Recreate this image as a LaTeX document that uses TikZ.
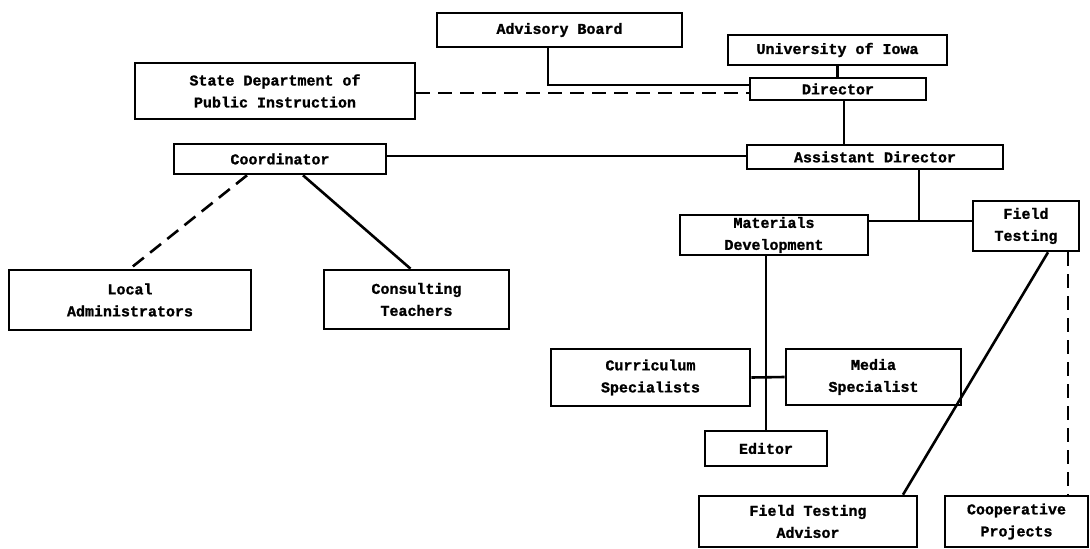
\documentclass[tikz,border=0pt]{standalone}
\usepackage{fontspec}
\setmainfont{Liberation Mono}[BoldFeatures={FakeBold=1.2}]
\begin{document}
\begin{tikzpicture}[x=1pt,y=-1pt,
  box/.style={draw, line width=2.6pt, inner sep=0pt, align=center,
    font=\fontsize{15}{22}\selectfont\bfseries},
  link/.style={line width=2.6pt},
  dlink/.style={line width=2.6pt, dash pattern=on 14pt off 8pt}]
\useasboundingbox (0,0) rectangle (1090,549);
\fill[white] (0,0) rectangle (1090,549);
% boxes
\node[box, minimum width=245pt, minimum height=34pt] (adv) at (559.5,30) {Advisory Board};
\node[box, minimum width=219pt, minimum height=30pt] (univ) at (837.5,50) {University of Iowa};
\node[box, minimum width=176pt, minimum height=22pt] (dir) at (838,89) {Director};
\node[box, minimum width=280pt, minimum height=56pt] (state) at (275,91) {State Department of\\Public Instruction};
\node[box, minimum width=212pt, minimum height=30pt] (coord) at (280,159) {Coordinator};
\node[box, minimum width=256pt, minimum height=24pt] (ad) at (875,157) {Assistant Director};
\node[box, minimum width=242pt, minimum height=60pt] (local) at (130,300) {Local\\Administrators};
\node[box, minimum width=185pt, minimum height=59pt] (consult) at (416.5,299.5) {Consulting\\Teachers};
\node[box, minimum width=188pt, minimum height=40pt] (mat) at (774,235) {Materials\\Development};
\node[box, minimum width=106pt, minimum height=50pt] (ft) at (1026,226) {Field\\Testing};
\node[box, minimum width=199pt, minimum height=57pt] (curr) at (650.5,377.5) {Curriculum\\Specialists};
\node[box, minimum width=175pt, minimum height=56pt] (media) at (873.5,377) {Media\\Specialist};
\node[box, minimum width=122pt, minimum height=35pt] (editor) at (766,448.5) {Editor};
\node[box, minimum width=218pt, minimum height=51pt] (fta) at (808,521.5) {Field Testing\\Advisor};
\node[box, minimum width=143pt, minimum height=51pt] (coop) at (1016.5,521.5) {Cooperative\\Projects};
% connectors
\draw[link] (548,0 |- adv.south) |- ([yshift=4pt]dir.west);
\draw[link] (univ.south) -- (univ.south |- dir.north);
\draw[dlink] ([yshift=-2pt]state.east) -- ([yshift=-2pt]state.east -| dir.west);
\draw[link] ([xshift=6pt]dir.south) -- ([xshift=6pt]dir.south |- ad.north);
\draw[link] ([yshift=3pt]coord.east) -- ([yshift=3pt]coord.east -| ad.west);
\draw[dlink] ([xshift=-33pt]coord.south) -- (local.north);
\draw[link] ([xshift=23pt]coord.south) -- ([xshift=-6pt]consult.north);
\coordinate (j) at (919,221);
\draw[link] (mat.east |- j) -- (ft.west |- j);
\draw[link] (j) -- (j |- ad.south);
\draw[link] (editor.north |- mat.south) -- (editor.north);
\draw[link] (curr.east) -- (media.west);
\draw[link] ([xshift=22pt]ft.south) -- ([xshift=95pt]fta.north);
\draw[dlink] ([xshift=42pt]ft.south) -- ([xshift=42pt]ft.south |- coop.north);
\end{tikzpicture}
\end{document}
